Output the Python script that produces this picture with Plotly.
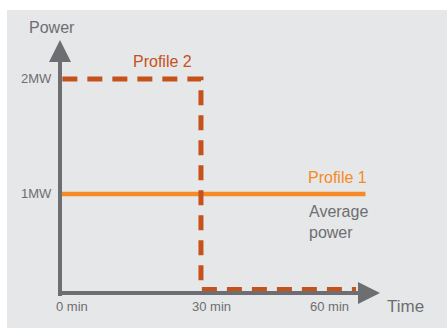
import plotly.graph_objects as go

# schematic power profiles (MW over minutes)
profile2_t = [0.5, 30, 30, 63]
profile2_p = [2, 2, 0.17, 0.17]
profile1_t = [0, 65]
profile1_p = [1, 1]

y_tick_vals = [1, 2]
y_tick_text = ["1MW", "2MW"]
x_tick_vals = [0, 30, 60]
x_tick_text = ["0 min", "30 min", "60 min"]

GRAY = "#6d6e71"
DARK = "#c5511b"
ORANGE = "#f68a26"
FONT = "Liberation Sans, Arial, sans-serif"

fig = go.Figure()

fig.add_trace(go.Scatter(x=profile1_t, y=profile1_p, mode="lines",
                         line=dict(color=ORANGE, width=4.5), hoverinfo="skip"))
fig.add_trace(go.Scatter(x=profile2_t, y=profile2_p, mode="lines",
                         line=dict(color=DARK, width=5, dash="15px,10px"),
                         hoverinfo="skip"))

# grey panel behind everything
fig.add_shape(type="rect", xref="paper", yref="paper",
              x0=-0.1656, x1=1.21, y0=-0.138, y1=1.1186,
              fillcolor="#e6e7e8", line_width=0, layer="below")

# axes drawn as arrows
fig.add_annotation(x=68.1, y=0.139, ax=-0.5, ay=0.139, xref="x", yref="y",
                   axref="x", ayref="y", text="", showarrow=True,
                   arrowhead=2, arrowsize=1.1, arrowwidth=4, arrowcolor=GRAY)
fig.add_annotation(x=0, y=2.339, ax=0, ay=0.1, xref="x", yref="y",
                   axref="x", ayref="y", text="", showarrow=True,
                   arrowhead=2, arrowsize=1.1, arrowwidth=4, arrowcolor=GRAY)

for v, t in zip(y_tick_vals, y_tick_text):
    fig.add_annotation(x=0, y=v, text=t, showarrow=False, xanchor="right",
                       xshift=-6, font=dict(size=13, color=GRAY, family=FONT))

x_shifts = [12, 11, -12]
for v, t, s in zip(x_tick_vals, x_tick_text, x_shifts):
    fig.add_annotation(x=v, y=0.139, text=t, showarrow=False, yanchor="top",
                       xshift=s, yshift=-4,
                       font=dict(size=13, color=GRAY, family=FONT))

fig.add_annotation(x=0, y=2.339, text="Power", showarrow=False, yanchor="bottom",
                   xshift=-8, yshift=2, font=dict(size=16, color=GRAY, family=FONT))
fig.add_annotation(x=68.1, y=0.139, text="Time", showarrow=False, xanchor="left",
                   yanchor="top", xshift=5, yshift=-2,
                   font=dict(size=17, color=GRAY, family=FONT))
fig.add_annotation(x=21.8, y=2.15, text="Profile 2", showarrow=False,
                   font=dict(size=16, color=DARK, family=FONT))
fig.add_annotation(x=59, y=1.14, text="Profile 1", showarrow=False,
                   font=dict(size=16, color=ORANGE, family=FONT))
fig.add_annotation(x=52.5, y=0.76, text="Average<br>power", showarrow=False,
                   xanchor="left", align="left",
                   font=dict(size=16, color=GRAY, family=FONT))

fig.update_xaxes(range=[0, 68.1], visible=False)
fig.update_yaxes(range=[0.139, 2.339], visible=False)

fig.update_layout(
    width=447, height=329,
    margin=dict(l=60, r=67, t=40, b=36),
    paper_bgcolor="white", plot_bgcolor="rgba(0,0,0,0)",
    showlegend=False,
)

# drop the browser's default body margin so the figure sits at the page corner
fig.write_html("out.html", config={"displayModeBar": False},
               post_script="document.body.style.margin='0';")
